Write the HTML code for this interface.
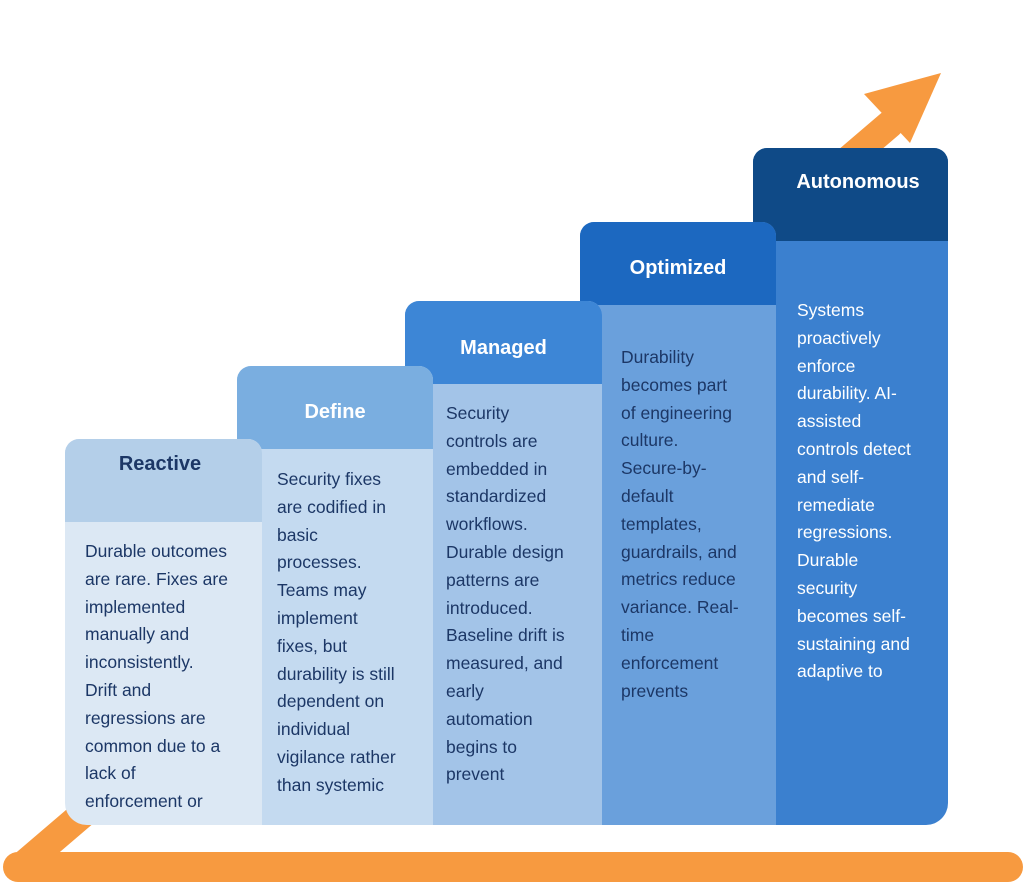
<!DOCTYPE html>
<html><head><style>
body{margin:0;width:1024px;height:882px;background:#fff;position:relative;overflow:hidden;font-family:"Liberation Sans",sans-serif}
.b{position:absolute}
.h{position:absolute;font-weight:bold;font-size:20px;color:#fff;text-align:center}
.t{position:absolute;font-size:17.5px;line-height:27.8px;color:#1c3766;white-space:nowrap}
</style></head><body>
<svg class="b" style="left:0;top:0" width="1024" height="882">
<line x1="22" y1="866" x2="890" y2="124" stroke="#f79a40" stroke-width="28" stroke-linecap="round"/>
<line x1="18" y1="867" x2="1008" y2="867" stroke="#f79a40" stroke-width="30" stroke-linecap="round"/>
<polygon points="941,73 864,94 910,143" fill="#f79a40"/>
</svg>
<!-- Autonomous -->
<div class="b" style="left:753px;top:148px;width:195px;height:677px;background:#3b80cf;border-radius:14px 14px 22px 0"></div>
<div class="b" style="left:753px;top:148px;width:195px;height:93px;background:#0f4a87;border-radius:14px 14px 0 0"></div>
<div class="h" style="left:753px;top:171px;width:210px">Autonomous</div>
<div class="t" style="left:797px;top:297px;color:#fff">Systems<br>proactively<br>enforce<br>durability. AI-<br>assisted<br>controls detect<br>and self-<br>remediate<br>regressions.<br>Durable<br>security<br>becomes self-<br>sustaining and<br>adaptive to</div>
<!-- Optimized -->
<div class="b" style="left:580px;top:222px;width:196px;height:603px;background:#6aa0dc;border-radius:14px 14px 0 0"></div>
<div class="b" style="left:580px;top:222px;width:196px;height:83px;background:#1c68c0;border-radius:14px 14px 0 0"></div>
<div class="h" style="left:580px;top:257px;width:196px">Optimized</div>
<div class="t" style="left:621px;top:344px">Durability<br>becomes part<br>of engineering<br>culture.<br>Secure-by-<br>default<br>templates,<br>guardrails, and<br>metrics reduce<br>variance. Real-<br>time<br>enforcement<br>prevents</div>
<!-- Managed -->
<div class="b" style="left:405px;top:301px;width:197px;height:524px;background:#a3c4e8;border-radius:14px 14px 0 0"></div>
<div class="b" style="left:405px;top:301px;width:197px;height:83px;background:#3d86d6;border-radius:14px 14px 0 0"></div>
<div class="h" style="left:405px;top:337px;width:197px">Managed</div>
<div class="t" style="left:446px;top:400px">Security<br>controls are<br>embedded in<br>standardized<br>workflows.<br>Durable design<br>patterns are<br>introduced.<br>Baseline drift is<br>measured, and<br>early<br>automation<br>begins to<br>prevent</div>
<!-- Define -->
<div class="b" style="left:237px;top:366px;width:196px;height:459px;background:#c4daf0;border-radius:14px 14px 0 0"></div>
<div class="b" style="left:237px;top:366px;width:196px;height:83px;background:#7aaee0;border-radius:14px 14px 0 0"></div>
<div class="h" style="left:237px;top:401px;width:196px">Define</div>
<div class="t" style="left:277px;top:466px">Security fixes<br>are codified in<br>basic<br>processes.<br>Teams may<br>implement<br>fixes, but<br>durability is still<br>dependent on<br>individual<br>vigilance rather<br>than systemic</div>
<!-- Reactive -->
<div class="b" style="left:65px;top:439px;width:197px;height:386px;background:#dce8f4;border-radius:14px 14px 0 22px"></div>
<div class="b" style="left:65px;top:439px;width:197px;height:83px;background:#b4cfe9;border-radius:14px 14px 0 0"></div>
<div class="h" style="left:65px;top:453px;width:190px;color:#1c3766">Reactive</div>
<div class="t" style="left:85px;top:538px">Durable outcomes<br>are rare. Fixes are<br>implemented<br>manually and<br>inconsistently.<br>Drift and<br>regressions are<br>common due to a<br>lack of<br>enforcement or</div>
</body></html>
